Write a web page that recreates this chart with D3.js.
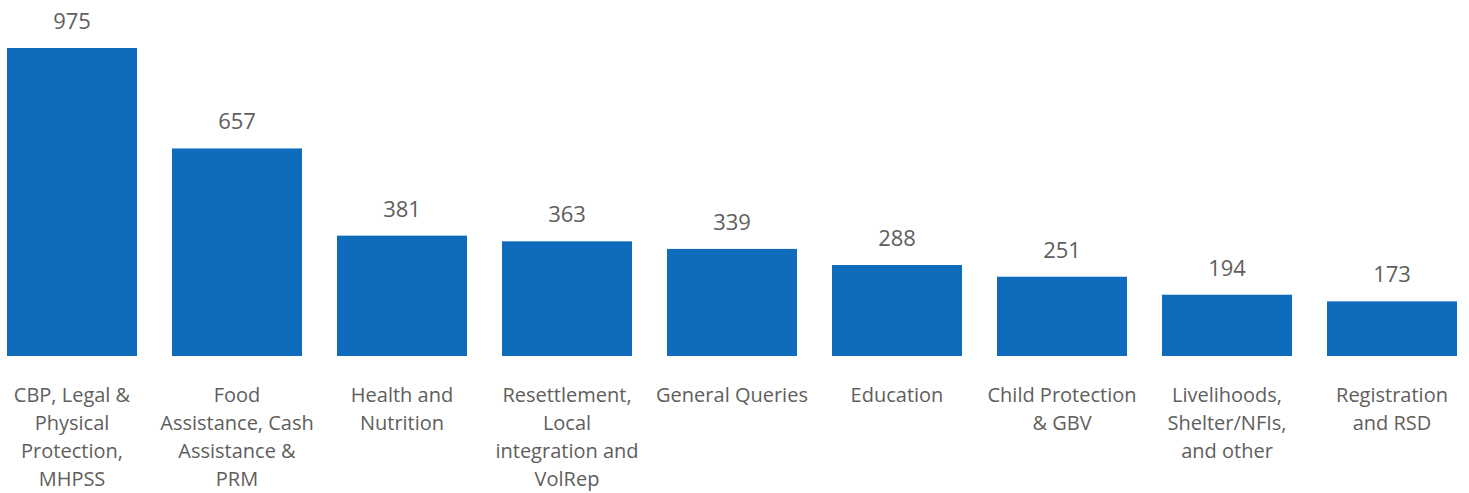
<!DOCTYPE html>
<html>
<head>
<meta charset="utf-8">
<script src="https://cdn.jsdelivr.net/npm/d3@7"></script>
<style>
  html, body { margin: 0; padding: 0; background: #ffffff; }
  svg { display: block; }
  text { font-family: "Open Sans", "Noto Sans", sans-serif; fill: #605E5C; }
</style>
</head>
<body>
<svg id="chart" width="1469" height="493"></svg>
<script>
const categories = [
  "CBP, Legal &\nPhysical\nProtection,\nMHPSS",
  "Food\nAssistance, Cash\nAssistance &\nPRM",
  "Health and\nNutrition",
  "Resettlement,\nLocal\nintegration and\nVolRep",
  "General Queries",
  "Education",
  "Child Protection\n& GBV",
  "Livelihoods,\nShelter/NFIs,\nand other",
  "Registration\nand RSD"
];
const values = [975, 657, 381, 363, 339, 288, 251, 194, 173];

const W = 1469, H = 493;
const svg = d3.select("#chart");

const x = d3.scaleBand()
  .domain(categories)
  .range([7, 1457])
  .paddingInner(35 / 165)
  .paddingOuter(0);

const y = d3.scaleLinear()
  .domain([0, 975])
  .range([356, 48]);

const data = categories.map((c, i) => ({ c, v: values[i] }));

svg.append("g").selectAll("rect")
  .data(data)
  .join("rect")
  .attr("x", d => x(d.c))
  .attr("y", d => y(d.v))
  .attr("width", x.bandwidth())
  .attr("height", d => y(0) - y(d.v))
  .attr("fill", "#0F6CBD");

svg.append("g").selectAll("text")
  .data(data)
  .join("text")
  .attr("x", d => x(d.c) + x.bandwidth() / 2)
  .attr("y", d => y(d.v) - 19)
  .attr("text-anchor", "middle")
  .style("font-size", "22px")
  .text(d => d3.format(",")(d.v));

const xAxis = svg.append("g");
const lbl = xAxis.selectAll("text")
  .data(categories)
  .join("text")
  .attr("x", d => x(d) + x.bandwidth() / 2)
  .attr("y", 402)
  .attr("text-anchor", "middle")
  .style("font-size", "20px");
lbl.each(function(d) {
  const t = d3.select(this);
  d.split("\n").forEach((line, i) => {
    t.append("tspan")
      .attr("x", x(d) + x.bandwidth() / 2)
      .attr("y", 402 + i * 28)
      .text(line);
  });
});
</script>
</body>
</html>
